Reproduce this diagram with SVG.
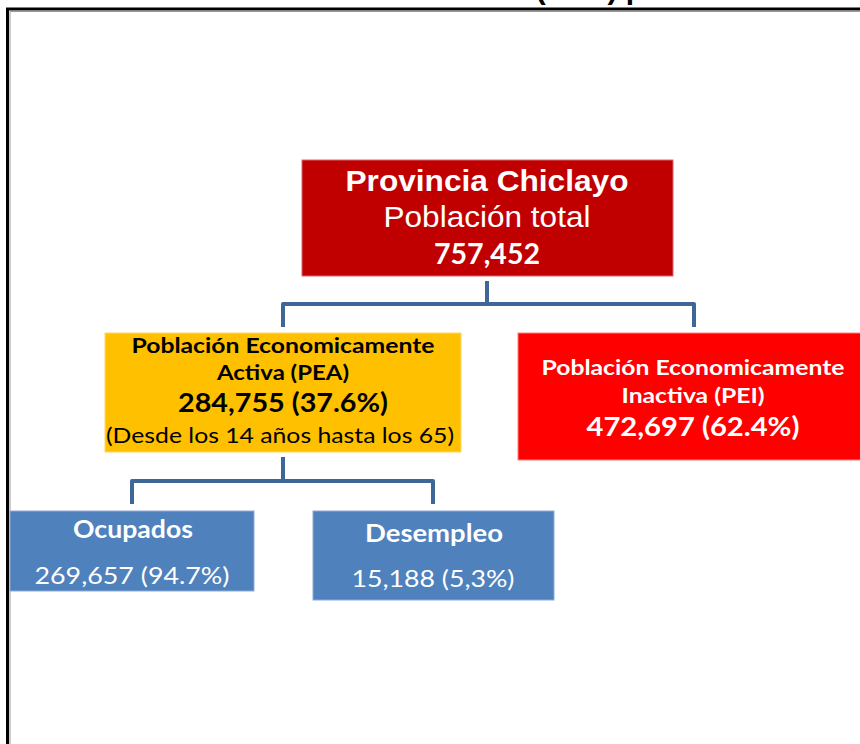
<svg xmlns="http://www.w3.org/2000/svg" width="860" height="744" viewBox="0 0 860 744">
<style>
.ar{font-family:"Liberation Sans",Arial,sans-serif;fill:#fff;text-anchor:middle}
.ca{font-family:Lato,"Open Sans",sans-serif;text-anchor:middle}
.b{font-weight:bold}
.w{fill:#fff}
.k{fill:#000}
.conn{fill:none;stroke:#3E6697;stroke-width:4;stroke-linejoin:round}
</style>
<rect x="0" y="0" width="860" height="744" fill="#fff"/>
<text x="590" y="-1" font-family="'Liberation Sans',Arial,sans-serif" font-weight="bold" font-size="30" text-anchor="middle" fill="#000">(PEA) p</text>
<path d="M7.5 744 V9 H860" fill="none" stroke="#000" stroke-width="3"/>
<path d="M10 744 V11.5 H860" fill="none" stroke="#9a9a9a" stroke-width="1"/>

<g id="connectors">
<path class="conn" d="M487 281 V304"/>
<path class="conn" d="M283 327 V304 H694 V327"/>
<path class="conn" d="M283 457 V481"/>
<path class="conn" d="M132 504 V481 H433 V504"/>
</g>

<g id="node-provincia">
<rect x="302" y="160" width="371" height="116" fill="#C00000" stroke="#D9696A" stroke-width="1"/>
<text class="ar b" x="487" y="191" font-size="30" textLength="283" lengthAdjust="spacingAndGlyphs">Provincia Chiclayo</text>
<text class="ar" x="487" y="227" font-size="29" textLength="207" lengthAdjust="spacingAndGlyphs">Población total</text>
<text class="ca b w" x="487" y="264" font-size="28" textLength="106" lengthAdjust="spacingAndGlyphs">757,452</text>
</g>

<g id="node-pea">
<rect x="105" y="333" width="356" height="119" fill="#FFC000" stroke="#FFD766" stroke-width="1"/>
<text class="ca b k" x="283" y="353" font-size="21.5" textLength="303" lengthAdjust="spacingAndGlyphs">Población Economicamente</text>
<text class="ca b k" x="283" y="380" font-size="21.5" textLength="132" lengthAdjust="spacingAndGlyphs">Activa (PEA)</text>
<text class="ca b k" x="283" y="412" font-size="26" textLength="210" lengthAdjust="spacingAndGlyphs">284,755 (37.6%)</text>
<text class="ca k" x="280" y="443" font-size="21" textLength="348" lengthAdjust="spacingAndGlyphs">(Desde los 14 años hasta los 65)</text>
</g>

<g id="node-pei">
<rect x="518" y="333" width="345" height="127" fill="#FF0000" stroke="#FF8080" stroke-width="1"/>
<text class="ca b w" x="693" y="375" font-size="21.5" textLength="303" lengthAdjust="spacingAndGlyphs">Población Economicamente</text>
<text class="ca b w" x="693" y="403" font-size="21.5" textLength="143" lengthAdjust="spacingAndGlyphs">Inactiva (PEI)</text>
<text class="ca b w" x="693" y="436" font-size="26" textLength="213" lengthAdjust="spacingAndGlyphs">472,697 (62.4%)</text>
</g>

<g id="node-ocupados">
<rect x="10" y="511" width="244" height="80" fill="#4F81BD" stroke="#8FAAD6" stroke-width="1"/>
<text class="ca b w" x="133" y="538" font-size="24" textLength="120" lengthAdjust="spacingAndGlyphs">Ocupados</text>
<text class="ca w" x="132" y="584" font-size="24" textLength="195" lengthAdjust="spacingAndGlyphs">269,657 (94.7%)</text>
</g>

<g id="node-desempleo">
<rect x="313" y="511" width="241" height="89" fill="#4F81BD" stroke="#8FAAD6" stroke-width="1"/>
<text class="ca b w" x="434" y="542" font-size="24" textLength="138" lengthAdjust="spacingAndGlyphs">Desempleo</text>
<text class="ca w" x="433" y="587" font-size="24" textLength="163" lengthAdjust="spacingAndGlyphs">15,188 (5,3%)</text>
</g>
</svg>
